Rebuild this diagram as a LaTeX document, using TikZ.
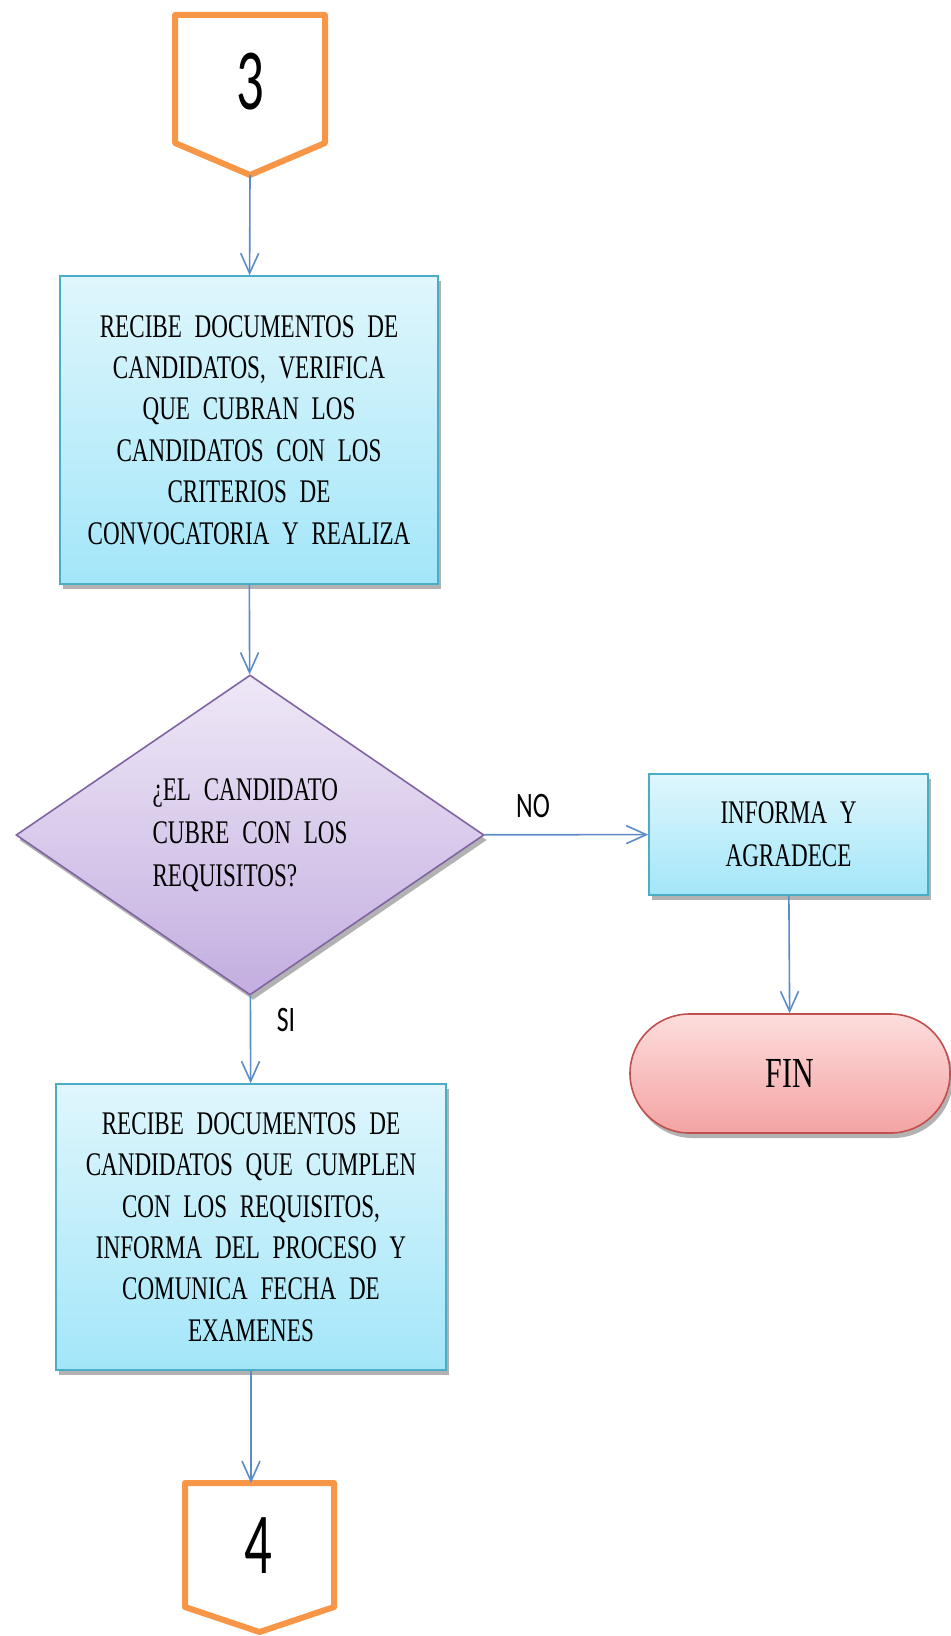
\documentclass[tikz,border=0pt]{standalone}
\usepackage{fontspec}
\setmainfont{Liberation Serif}
\newfontfamily\cuerpo[FakeStretch=0.7, WordSpace=2.2]{Liberation Serif}
\newfontfamily\etiqfont[FakeStretch=0.72]{Carlito}
\newfontfamily\numfont[FakeStretch=0.63]{Carlito}
\usetikzlibrary{arrows.meta, shapes.geometric, shapes.misc, shadows}
\definecolor{flechaazul}{HTML}{5B8BC9}
\definecolor{naranja}{HTML}{F79646}
\definecolor{cajaborde}{HTML}{4BACC6}
\definecolor{cajaarriba}{HTML}{DFF6FC}
\definecolor{cajaabajo}{HTML}{A3E6F9}
\definecolor{rombborde}{HTML}{8064A2}
\definecolor{rombarriba}{HTML}{EFE8F7}
\definecolor{rombabajo}{HTML}{C3AEE0}
\definecolor{finborde}{HTML}{C0504D}
\definecolor{finarriba}{HTML}{FDDDDD}
\definecolor{finabajo}{HTML}{F4A3A3}
\tikzset{
  sombra/.style={drop shadow={shadow xshift=1.5pt, shadow yshift=-2.5pt, fill=black, opacity=0.3}},
  proceso/.style={rectangle, draw=cajaborde, line width=0.8pt, top color=cajaarriba, bottom color=cajaabajo,
    sombra, align=center, inner sep=0pt, font=\cuerpo\fontsize{16.5}{20.7}\selectfont},
  decision/.style={diamond, aspect=1.46, draw=rombborde, line width=0.8pt, top color=rombarriba,
    bottom color=rombabajo, sombra, align=left, inner sep=0pt, font=\cuerpo\fontsize{16.5}{21.5}\selectfont},
  terminal/.style={rounded rectangle, draw=finborde, line width=0.8pt, top color=finarriba,
    bottom color=finabajo, sombra, inner sep=0pt, font=\cuerpo\fontsize{21.4}{25}\selectfont},
  conector/.style={draw=naranja, line width=3pt, line join=round, fill=white},
  numero/.style={font=\numfont\fontsize{43.5}{50}\selectfont, inner sep=0pt},
  etiqueta/.style={font=\etiqfont\fontsize{17.9}{20}\selectfont, inner sep=0pt},
  flecha/.style={draw=flechaazul, line width=0.8pt, -{Straight Barb[length=10pt, width=9pt]}}
}
\begin{document}
\begin{tikzpicture}[x=0.5pt, y=-0.5pt]
  \useasboundingbox (0,0) rectangle (951,1636);
  \draw[conector] (175,15) -- (325,15) -- (325,143) -- (250,175) -- (175,143) -- cycle;
  \node[numero] (n3) at (250,82) {3};
  \coordinate (p3) at (250,175);

  \node[proceso, minimum width=189pt, minimum height=154pt] (caja1) at (249,430)
    {RECIBE DOCUMENTOS DE\\ CANDIDATOS, VERIFICA\\ QUE CUBRAN LOS\\ CANDIDATOS CON LOS\\ CRITERIOS DE\\ CONVOCATORIA Y REALIZA};
  \node[decision, minimum width=234pt, minimum height=160pt] (requisitos) at (250,835)
    {¿EL CANDIDATO\\ CUBRE CON LOS\\ REQUISITOS?};
  \node[proceso, minimum width=139.5pt, minimum height=60.5pt, font=\cuerpo\fontsize{16.5}{21.5}\selectfont] (informa) at (788.5,834.5)
    {INFORMA Y\\ AGRADECE};
  \node[terminal, minimum width=160pt, minimum height=59.5pt] (fin) at (790,1073.5) {FIN};
  \node[proceso, minimum width=195pt, minimum height=143pt] (caja2) at (251,1227)
    {RECIBE DOCUMENTOS DE\\ CANDIDATOS QUE CUMPLEN\\ CON LOS REQUISITOS,\\ INFORMA DEL PROCESO Y\\ COMUNICA FECHA DE\\ EXAMENES};

  \draw[conector] (185,1483) -- (334,1483) -- (334,1607) -- (259.5,1632) -- (185,1607) -- cycle;
  \node[numero] (n4) at (258,1546) {4};
  \coordinate (p4) at (251,1483);

  \node[etiqueta] (no) at (533,806) {NO};
  \node[etiqueta] (si) at (286,1020) {SI};

  \draw[flecha] (p3) -- (caja1);
  \draw[flecha] (caja1) -- (requisitos);
  \draw[flecha] (requisitos) -- (informa);
  \draw[flecha] (informa) -- (fin);
  \draw[flecha] (requisitos) -- (caja2);
  \draw[flecha] (caja2) -- (p4);
\end{tikzpicture}
\end{document}
